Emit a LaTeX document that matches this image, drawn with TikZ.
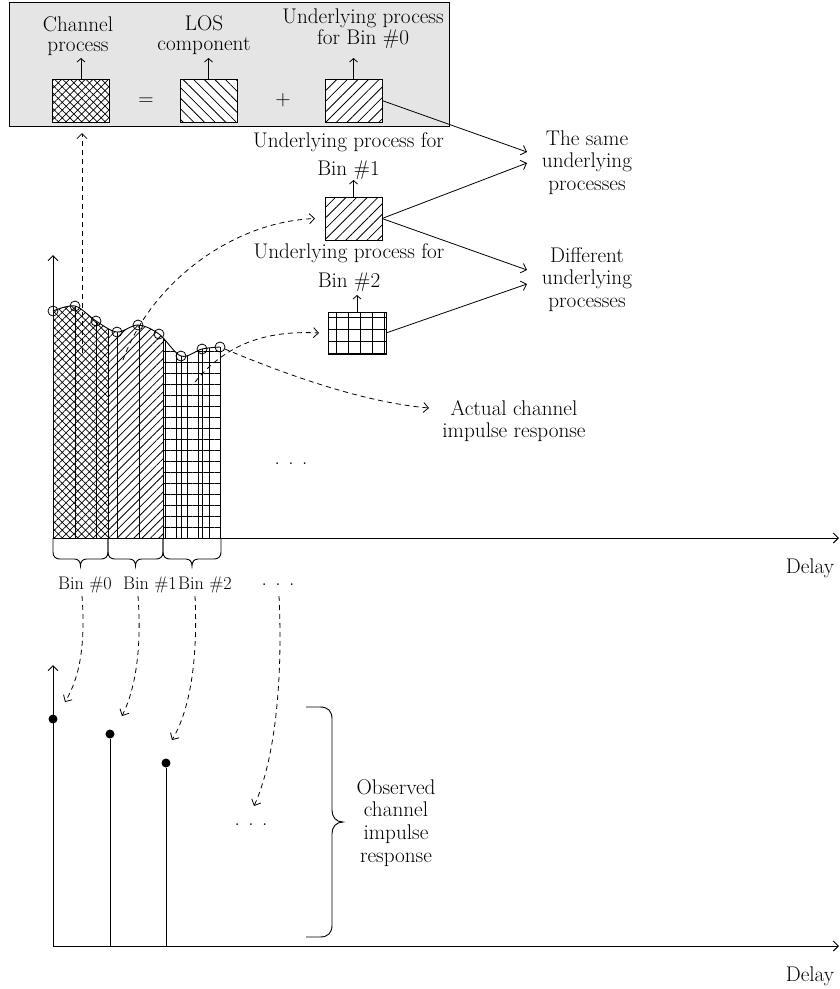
\documentclass[tikz,border=0pt]{standalone}
\usepackage{fontspec}
\usetikzlibrary{arrows.meta,patterns.meta}
\newcommand\binbrace[3]{%
  \draw[line width=0.9pt] (#1,#3) -- (#1,{#3+14})
    .. controls (#1,{#3+19}) and ({#1+3},{#3+21}) .. ({#1+7},{#3+21})
    -- ({(#1+#2)/2-6},{#3+21})
    .. controls ({(#1+#2)/2-2},{#3+21}) and ({(#1+#2)/2},{#3+24}) .. ({(#1+#2)/2},{#3+28})
    .. controls ({(#1+#2)/2},{#3+24}) and ({(#1+#2)/2+2},{#3+21}) .. ({(#1+#2)/2+6},{#3+21})
    -- ({#2-7},{#3+21})
    .. controls ({#2-3},{#3+21}) and (#2,{#3+19}) .. (#2,{#3+14}) -- (#2,#3);}
\begin{document}
\begin{tikzpicture}[x=1pt,y=-1pt,
  >={Straight Barb[length=5pt,width=10pt]},
  small/.style={->,line width=0.8pt,>={Straight Barb[length=3.5pt,width=8pt]}},
  every node/.style={inner sep=0pt, outer sep=0pt},
  txt/.style={align=center, font=\fontsize{21.2}{#1}\selectfont},
  txt/.default=22.5,
  binlab/.style={anchor=base, font=\fontsize{18.2}{20}\selectfont},
  hbox/.style={draw, line width=0.9pt, minimum width=57pt, minimum height=43pt, preaction={fill=white}},
  dsh/.style={->, line width=0.8pt, dash pattern=on 5pt off 4pt},
  conn/.style={->, line width=0.8pt},
  axisline/.style={line width=1pt},
  pcross/.style={pattern={Hatch[angle=45,distance=5.5pt,line width=0.7pt]}},
  pne/.style={pattern={Lines[angle=45,distance=#1,line width=0.8pt]}},
  pnw/.style={pattern={Lines[angle=-45,distance=#1,line width=0.8pt]}},
  pgrid/.style={pattern={Hatch[angle=0,distance=#1,line width=0.8pt]}},
  dot/.style={circle, fill, minimum size=9pt},
  ring/.style={circle, draw, line width=0.8pt, minimum size=10pt},
  curvepath/.style={insert path={-- plot[smooth,tension=0.55] coordinates {(53,311) (75,306) (96,321) (117,332) (138,325) (159,334) (181,356) (202,349) (220,347)}}},
]
\useasboundingbox (0,0) rectangle (840,989);

% ---------- top panel ----------
\node[draw, fill=black!10, line width=1pt, minimum width=440pt, minimum height=124pt] (panel) at (229,64) {};
\node[hbox, pcross] (chbox) at (81,100.5) {};
\node[hbox, pnw=7.5pt] (losbox) at (208.5,100.5) {};
\node[hbox, pne=7.5pt] (b0box) at (353.5,100.5) {};
\node[txt=20] (chlab) at (78,36.5) {Channel\\process};
\node[txt=20] (loslab) at (204,35.6) {LOS\\component};
\node[txt=19] (b0lab) at (363,28.8) {Underlying process\\for Bin \#0};
\node[txt] (eq) at (146,102) {=};
\node[txt] (plus) at (283,100) {+};
\draw[small] (chbox.north) -- ++(0,-21);
\draw[small] (losbox.north) -- ++(0,-21);
\draw[small] (b0box.north) -- ++(0,-21);

% ---------- bin boxes ----------
\node[hbox, pne=7.5pt] (b1box) at (353.5,218.5) {};
\node[hbox, pgrid=12pt, minimum width=58pt, minimum height=42pt] (b2box) at (357,333) {};
\node[txt=28] (b1lab) at (348.5,155.8) {Underlying process for\\Bin \#1};
\node[txt=29] (b2lab) at (349,267.3) {Underlying process for\\Bin \#2};
\draw[small] (b1box.north) -- ++(0,-17);
\draw[small] (b2box.north) -- ++(0,-17);

% ---------- right labels ----------
\node[txt=22.5] (same) at (587,162.3) {The same\\underlying\\processes};
\node[txt=22.5] (diff) at (587,279.3) {Different\\underlying\\processes};
\node[txt=22] (actual) at (514,420.8) {Actual channel\\impulse response};
\coordinate (sameA) at (527,152);
\coordinate (sameB) at (527,163);
\coordinate (diffA) at (527,270);
\coordinate (diffB) at (527,284);
\draw[conn] (b0box.east) -- (sameA);
\draw[conn] (b1box.east) -- (sameB);
\draw[conn] (b1box.east) -- (diffA);
\draw[conn] (b2box.east) -- (diffB);

% ---------- upper chart ----------
\begin{scope}
  \clip (53,538) [curvepath] -- (220,538) -- cycle;
  \fill[pcross] (53,250) rectangle (108,538);
  \fill[pne=5.9pt] (108,250) rectangle (163,538);
  \fill[pgrid=11pt] (163,250) rectangle (220,538);
  \foreach \x in {75,96,108,117,139,163,181,202}
    \draw[line width=0.9pt] (\x,250) -- (\x,538);
\end{scope}
\draw[line width=0.9pt] (53,311) [curvepath];
\draw[line width=0.9pt] (220,347) -- (220,538);
\draw[axisline,->] (53,538) -- (53,255);
\draw[axisline,->] (53,538) -- (839,538);
\node[txt, anchor=base] (delay1) at (810,573) {Delay};
\foreach \n/\p in {1/{53,311},2/{75,306},3/{96,321},4/{117,332},5/{138,325},6/{159,334},7/{181,356},8/{202,349},9/{220,347}}
  \node[ring] (c\n) at (\p) {};

\binbrace{53}{108}{538}
\binbrace{108}{163}{538}
\binbrace{163}{221}{538}
\node[binlab] (bin0) at (85,589) {Bin \#0};
\node[binlab] (bin1) at (150,589) {Bin \#1};
\node[binlab] (bin2) at (205,589) {Bin \#2};
\node[txt, anchor=base] (dotsA) at (278,585) {. . .};
\node[txt, anchor=base] (dotsB) at (291,464) {. . .};

% dashed links from the chart
\coordinate (v0) at (82,353);
\coordinate (v0end) at (82,133);
\draw[dsh] (v0) -- (v0end);
\coordinate (b1src) at (123,360);
\draw[dsh] (b1src) .. controls (150,285) and (230,222) .. ([xshift=-10pt]b1box.west);
\coordinate (b2src) at (195,382);
\draw[dsh] (b2src) .. controls (225,345) and (265,330) .. ([xshift=-9pt]b2box.west);
\coordinate (actEnd) at (429,408);
\draw[dsh] (c9) .. controls (280,372) and (360,402) .. (actEnd);

% ---------- lower chart ----------
\draw[axisline,->] (53,946) -- (53,665);
\draw[axisline,->] (53,946) -- (839,946);
\node[txt, anchor=base] (delay2) at (810,981) {Delay};
\node[dot] (d0) at (53,719) {};
\node[dot] (d1) at (110,734) {};
\node[dot] (d2) at (166,763) {};
\draw[line width=0.9pt] (110,946) -- (d1);
\draw[line width=0.9pt] (166,946) -- (d2);
\node[txt, anchor=base] (dotsC) at (251,825) {. . .};

\coordinate (l0s) at (82,596);  \coordinate (l0e) at (65,702);
\coordinate (l1s) at (138,596); \coordinate (l1e) at (122,716);
\coordinate (l2s) at (195,596); \coordinate (l2e) at (172,740);
\coordinate (l3s) at (279,596); \coordinate (l3e) at (254,806);
\draw[dsh] (l0s) .. controls (86,650) and (78,680) .. (l0e);
\draw[dsh] (l1s) .. controls (142,650) and (135,690) .. (l1e);
\draw[dsh] (l2s) .. controls (198,660) and (190,710) .. (l2e);
\draw[dsh] (l3s) .. controls (283,680) and (275,760) .. (l3e);

\draw[line width=0.9pt] (306,707) -- (320,707) .. controls (328,707) and (332,711) .. (332,719)
  -- (332,810) .. controls (332,817) and (336,822) .. (343,822)
  .. controls (336,822) and (332,827) .. (332,834)
  -- (332,925) .. controls (332,933) and (328,937) .. (320,937) -- (306,937);
\node[txt=22.7] (obs) at (396,822.9) {Observed\\channel\\impulse\\response};
\end{tikzpicture}
\end{document}
